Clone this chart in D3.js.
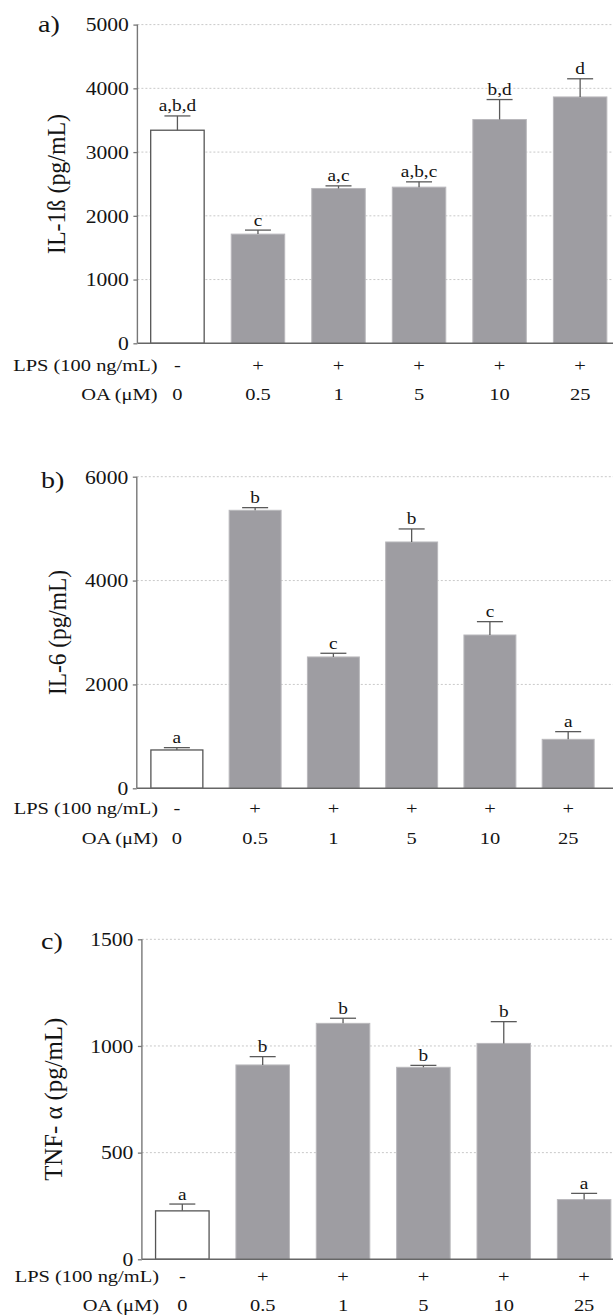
<!DOCTYPE html>
<html>
<head>
<meta charset="utf-8">
<script src="https://cdn.jsdelivr.net/npm/d3@7"></script>
<style>
  html, body { margin: 0; padding: 0; background: #fff; }
  svg { display: block; }
  text { font-family: "Liberation Serif", "DejaVu Serif", serif; fill: #141414; }
</style>
</head>
<body>
<svg id="chart" width="613" height="1315"></svg>
<script>
// ---------- data ----------
const oaLabels  = ["0", "0.5", "1", "5", "10", "25"];
const lpsLabels = ["-", "+", "+", "+", "+", "+"];

const il1bValues  = [3343, 1713, 2429, 2450, 3511, 3865];
const il1bErrors  = [224, 63, 41, 83, 313, 285];
const il1bLetters = ["a,b,d", "c", "a,c", "a,b,c", "b,d", "d"];
const il1bTicks   = [0, 1000, 2000, 3000, 4000, 5000];

const il6Values  = [738, 5353, 2529, 4743, 2952, 943];
const il6Errors  = [45, 51, 71, 251, 257, 148];
const il6Letters = ["a", "b", "c", "b", "c", "a"];
const il6Ticks   = [0, 2000, 4000, 6000];

const tnfValues  = [227, 911, 1106, 900, 1012, 280];
const tnfErrors  = [32, 39, 24, 9, 102, 29];
const tnfLetters = ["a", "b", "b", "b", "b", "a"];
const tnfTicks   = [0, 500, 1000, 1500];

const rowLabelLps = "LPS (100 ng/mL)";
const rowLabelOa  = "OA  (\u03BCM)";

// ---------- layout ----------
const SX = 1.17; // horizontal stretch of the original figure's text
const W = 613;
const panels = [
  { tag: "a)", title: "IL-1\u00DF (pg/mL)", values: il1bValues, errors: il1bErrors, letters: il1bLetters, ticks: il1bTicks,
    axisX: 137.4, top: 24.6, zero: 343.3, step: 80.54, pi: 0.336, po: 0.165,
    tagX: 38, tagY: 31.5, titleX: 58, titleLen: 140, lpsY: 371, oaY: 400, rowRight: 157.5 },
  { tag: "b)", title: "IL-6 (pg/mL)", values: il6Values, errors: il6Errors, letters: il6Letters, ticks: il6Ticks,
    axisX: 136.8, top: 476.7, zero: 788.3, step: 78.26, pi: 0.336, po: 0.18,
    tagX: 41, tagY: 487.5, titleX: 58.5, titleLen: 125, lpsY: 813.5, oaY: 843.5, rowRight: 158 },
  { tag: "c)", title: "TNF- \u03B1 (pg/mL)", values: tnfValues, errors: tnfErrors, letters: tnfLetters, ticks: tnfTicks,
    axisX: 141.9, top: 939.3, zero: 1259.3, step: 80.36, pi: 0.334, po: 0.17,
    tagX: 41, tagY: 948.5, titleX: 55, titleLen: 163, lpsY: 1282, oaY: 1311, rowRight: 159 }
];

const svg = d3.select("#chart");
svg.append("rect").attr("width", W).attr("height", 1315).attr("fill", "#fff");

function txt(g, x, y, s, size, anchor, sx) {
  return g.append("text")
    .attr("transform", `translate(${x},${y}) scale(${sx || SX},1)`)
    .attr("text-anchor", anchor || "middle")
    .style("font-size", size + "px")
    .text(s);
}

panels.forEach(p => {
  const g = svg.append("g");
  const n = oaLabels.length;
  const x = d3.scaleBand()
    .domain(oaLabels)
    .range([p.axisX, p.axisX + p.step * (n - p.pi + 2 * p.po)])
    .paddingInner(p.pi)
    .paddingOuter(p.po);
  const y = d3.scaleLinear()
    .domain([0, d3.max(p.ticks)])
    .range([p.zero, p.top]);

  // gridlines
  g.append("g").selectAll("line")
    .data(p.ticks.filter(t => t > 0))
    .join("line")
    .attr("x1", p.axisX).attr("x2", W)
    .attr("y1", d => y(d)).attr("y2", d => y(d))
    .attr("stroke", "#c9c9c9").attr("stroke-width", 1)
    .attr("stroke-dasharray", "2,2");

  // bars
  g.append("g").selectAll("rect")
    .data(p.values)
    .join("rect")
    .attr("x", (d, i) => x(oaLabels[i]))
    .attr("y", d => y(d))
    .attr("width", x.bandwidth())
    .attr("height", d => p.zero - y(d))
    .attr("fill", (d, i) => i === 0 ? "#ffffff" : "#9e9da2")
    .attr("stroke", (d, i) => i === 0 ? "#555" : "#b9b8bc")
    .attr("stroke-width", (d, i) => i === 0 ? 1.3 : 1);

  // error bars (upper half)
  const eb = g.append("g").attr("stroke", "#5a5a5a").attr("stroke-width", 1.3);
  p.values.forEach((v, i) => {
    const cx = x(oaLabels[i]) + x.bandwidth() / 2;
    const yt = y(v + p.errors[i]);
    eb.append("line").attr("x1", cx).attr("x2", cx).attr("y1", y(v)).attr("y2", yt);
    eb.append("line").attr("x1", cx - 13).attr("x2", cx + 13).attr("y1", yt).attr("y2", yt);
    txt(g, cx, yt - 4.5, p.letters[i], 16.5, "middle");
  });

  // x baseline
  g.append("line")
    .attr("x1", p.axisX).attr("x2", W)
    .attr("y1", p.zero).attr("y2", p.zero)
    .attr("stroke", "#666").attr("stroke-width", 1.4);

  // y axis
  const ax = g.append("g")
    .attr("transform", `translate(${p.axisX},0)`)
    .call(d3.axisLeft(y).tickValues(p.ticks).tickSize(4).tickFormat(d3.format("d")));
  ax.select(".domain").attr("stroke", "#777").attr("stroke-width", 1.4)
    .attr("d", `M0,${p.zero}V${p.top}`);
  ax.selectAll(".tick line").attr("stroke", "#777").attr("stroke-width", 1.3);
  ax.selectAll(".tick text")
    .attr("x", null).attr("dy", "0.34em")
    .attr("transform", `translate(-8.5,0) scale(${SX},1)`)
    .attr("fill", "#141414")
    .style("font-family", '"Liberation Serif", serif')
    .style("font-size", "18.5px");

  // panel tag
  txt(g, p.tagX, p.tagY, p.tag, 24, "start");

  // y title (rotated)
  const tmid = (p.top + p.zero) / 2;
  const tt = g.append("text")
    .attr("text-anchor", "middle")
    .style("font-size", "22px")
    .text(p.title);
  tt.attr("transform", `translate(${p.titleX + 7},${tmid}) rotate(-90)`);
  // scale along the text direction to match measured length
  const len = tt.node().getComputedTextLength();
  tt.attr("transform", `translate(${p.titleX + 7},${tmid}) rotate(-90) scale(${p.titleLen / len},${SX})`);

  // rows under the axis
  txt(g, p.rowRight, p.lpsY, rowLabelLps, 17.5, "end");
  txt(g, p.rowRight, p.oaY, rowLabelOa, 17.5, "end");
  lpsLabels.forEach((s, i) => {
    const cx = x(oaLabels[i]) + x.bandwidth() / 2;
    txt(g, cx, p.lpsY, s, 17.5, "middle");
  });
  oaLabels.forEach((s, i) => {
    const cx = x(oaLabels[i]) + x.bandwidth() / 2;
    txt(g, cx, p.oaY, s, 17.5, "middle");
  });
});
</script>
</body>
</html>
